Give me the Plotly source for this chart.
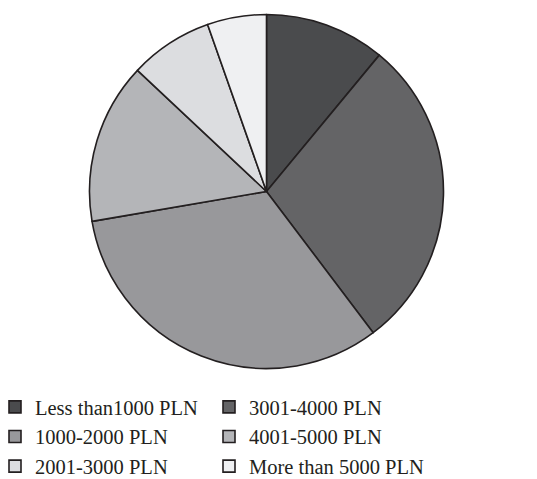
import plotly.graph_objects as go

# Income brackets, in slice order (clockwise from 12 o'clock)
labels = ["Less than1000 PLN", "3001-4000 PLN", "1000-2000 PLN",
          "4001-5000 PLN", "2001-3000 PLN", "More than 5000 PLN"]
shares = [11.0, 28.7, 32.6, 14.7, 7.6, 5.4]
colors = ["#4a4b4d", "#646466", "#98989b", "#b4b5b8", "#dcdde0", "#eff0f2"]

W, H = 537, 479

fig = go.Figure(go.Pie(
    labels=labels,
    values=shares,
    sort=False,
    direction="clockwise",
    rotation=0,
    textinfo="none",
    hoverinfo="label+percent",
    marker=dict(colors=colors, line=dict(color="#231f20", width=1.6)),
    domain=dict(x=[(266.5 - 177) / W, (266.5 + 177) / W],
                y=[1 - 368.5 / H, 1 - 14.5 / H]),
))

fig.update_layout(
    width=W, height=H,
    margin=dict(l=0, r=0, t=0, b=0, autoexpand=False),
    paper_bgcolor="white",
    plot_bgcolor="white",
    font=dict(family="Liberation Serif, Times New Roman, serif", size=20.5, color="#231f20"),
    legend=dict(
        orientation="h",
        x=5 / W, xanchor="left",
        y=1 - 387 / H, yanchor="top",
        entrywidth=179, entrywidthmode="pixels",
        indentation=-10,
        traceorder="normal",
        font=dict(size=20.5),
        itemclick=False,
    ),
    showlegend=True,
)

fig.write_html("out.html")
